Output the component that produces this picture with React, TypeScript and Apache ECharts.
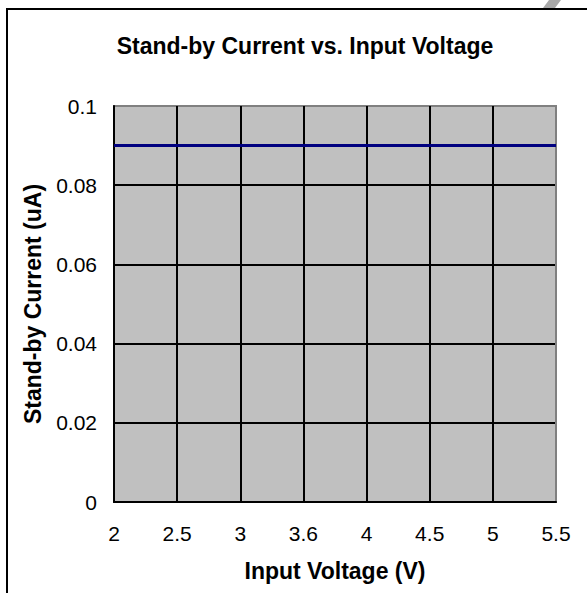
import React, { useEffect, useRef } from "react";
import * as echarts from "echarts";

const voltages = ["2", "2.5", "3", "3.6", "4", "4.5", "5", "5.5"];
const standbyCurrent = [0.09, 0.09, 0.09, 0.09, 0.09, 0.09, 0.09, 0.09];
const yTicks = { min: 0, max: 0.1, interval: 0.02 };

export default function App() {
  const ref = useRef<HTMLDivElement>(null);
  useEffect(() => {
    if (!ref.current) return;
    const chart = echarts.init(ref.current, null, { renderer: "svg" });
    const font = "'Liberation Sans', Arial, sans-serif";
    chart.setOption({
      animation: false,
      backgroundColor: "#ffffff",
      title: {
        text: "Stand-by Current vs. Input Voltage",
        left: 300,
        top: 29,
        textAlign: "center",
        textStyle: { fontFamily: font, fontSize: 23, fontWeight: "bold", color: "#000" },
      },
      grid: {
        left: 114,
        right: 31,
        top: 106,
        bottom: 91,
        show: true,
        backgroundColor: "#C0C0C0",
        borderColor: "#808080",
        borderWidth: 2,
      },
      xAxis: {
        type: "category",
        data: voltages,
        boundaryGap: false,
        name: "Input Voltage (V)",
        nameLocation: "middle",
        nameGap: 57,
        nameTextStyle: { fontFamily: font, fontSize: 23, fontWeight: "bold", color: "#000" },
        axisLine: { show: true, lineStyle: { color: "#000", width: 2 } },
        axisTick: { show: false },
        axisLabel: { fontFamily: font, fontSize: 21, color: "#000", margin: 21 },
        splitLine: {
          show: true,
          lineStyle: { color: ["#000", "#000", "#000", "#000", "#000", "#000", "#000", "#808080"], width: 2 },
        },
      },
      yAxis: {
        type: "value",
        min: yTicks.min,
        max: yTicks.max,
        interval: yTicks.interval,
        name: "Stand-by Current (uA)",
        nameLocation: "middle",
        nameGap: 70,
        nameTextStyle: { fontFamily: font, fontSize: 23, fontWeight: "bold", color: "#000" },
        axisLine: { show: true, lineStyle: { color: "#000", width: 2 } },
        axisTick: { show: false },
        axisLabel: { fontFamily: font, fontSize: 21, color: "#000", margin: 17 },
        splitLine: {
          show: true,
          lineStyle: { color: ["#000", "#000", "#000", "#000", "#000", "#808080"], width: 2 },
        },
      },
      series: [
        {
          type: "line",
          data: standbyCurrent,
          symbol: "none",
          lineStyle: { color: "#000080", width: 3 },
          z: 5,
        },
      ],
      graphic: [
        {
          type: "polyline",
          shape: { points: [[7, 600], [7, 9], [600, 9]] },
          style: { stroke: "#000", lineWidth: 2, fill: null },
        },
        {
          type: "polygon",
          shape: { points: [[543, 8], [549, 0], [561, 0], [555, 8]] },
          style: { fill: "#A8A8A8" },
        },
      ],
    });
    return () => chart.dispose();
  }, []);
  return (
    <div
      ref={ref}
      style={{ position: "fixed", left: 0, top: 0, width: 587, height: 593 }}
    />
  );
}
